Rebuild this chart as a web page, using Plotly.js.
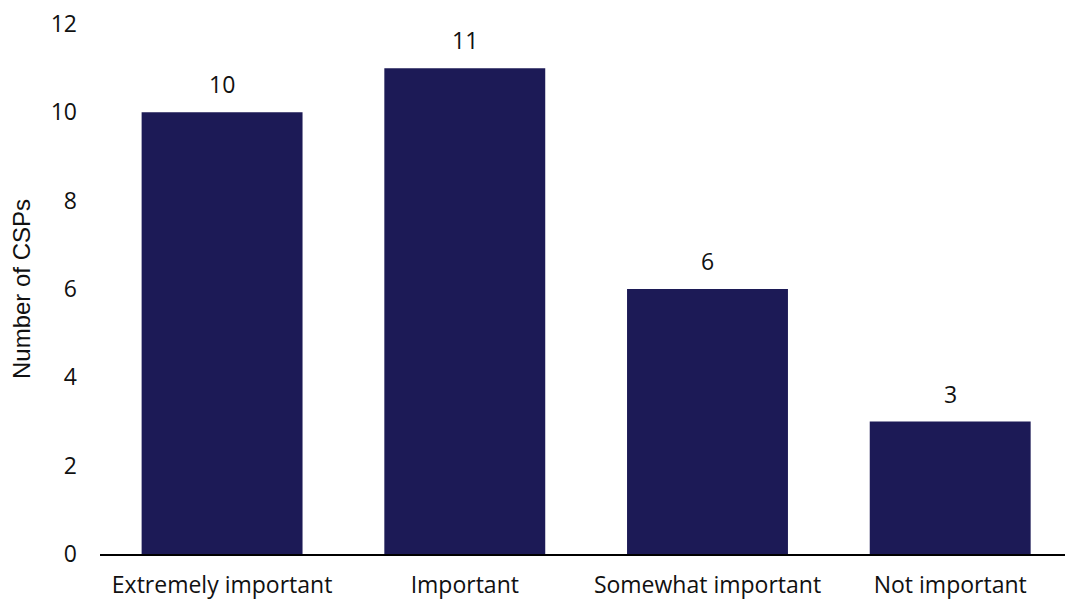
<!DOCTYPE html>
<html>
<head>
<meta charset="utf-8">
<script src="https://cdn.plot.ly/plotly-3.0.1.min.js"></script>
<style>html,body{margin:0;padding:0;background:#fff;}#chart{width:1065px;height:599px;}</style>
</head>
<body>
<div id="chart"></div>
<script>
const categories = ["Extremely important", "Important", "Somewhat important", "Not important"];
const counts = [10, 11, 6, 3];
const yTickVals = [0, 2, 4, 6, 8, 10, 12];
const yTickText = ["0", "2", "4", "6", "8", "10", "12"];

const barColor = "#1c1a56";
const mainFont = "Open Sans, Liberation Sans, Arial, sans-serif";

const trace = {
  type: "bar",
  x: categories,
  y: counts,
  marker: {color: barColor, line: {width: 0}},
  width: 0.663,
  hoverinfo: "skip"
};

const annotations = categories.map((c, i) => ({
  x: c, y: counts[i], xref: "x", yref: "y",
  text: String(counts[i]),
  showarrow: false,
  yanchor: "bottom",
  yshift: 10,
  font: {family: mainFont, size: 23, color: "#111"}
}));

const layout = {
  width: 1065, height: 599,
  margin: {l: 100, r: 0, t: 23.5, b: 45, pad: 0},
  paper_bgcolor: "#fff", plot_bgcolor: "#fff",
  showlegend: false,
  bargap: 0.337,
  xaxis: {
    type: "category",
    range: [-0.503, 3.473],
    showline: true, linecolor: "#000", linewidth: 2,
    showgrid: false, zeroline: false,
    ticks: "",
    ticklabelstandoff: 9,
    tickfont: {family: mainFont, size: 23, color: "#111"},
    fixedrange: true
  },
  yaxis: {
    range: [0, 12],
    tickvals: yTickVals, ticktext: yTickText,
    showline: false, showgrid: false, zeroline: false,
    ticks: "",
    ticklabelstandoff: 22,
    tickfont: {family: mainFont, size: 23, color: "#111"},
    title: {text: "Number of CSPs", standoff: 13, font: {family: "Liberation Sans, Arial, sans-serif", size: 24, color: "#111"}},
    automargin: false,
    fixedrange: true
  },
  annotations: annotations
};

Plotly.newPlot("chart", [trace], layout, {displayModeBar: false, staticPlot: true});
</script>
</body>
</html>
